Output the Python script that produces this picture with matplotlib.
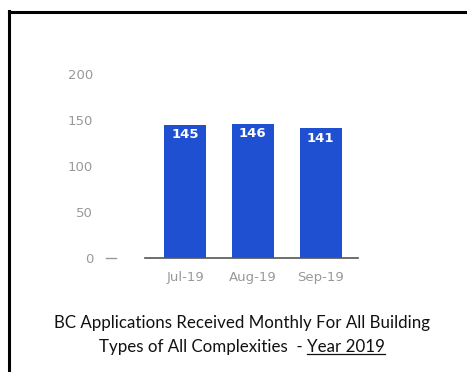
import matplotlib
matplotlib.use("Agg")
import matplotlib.pyplot as plt
from matplotlib.lines import Line2D

# monthly counts
months = ["Jul-19", "Aug-19", "Sep-19"]
applications = [145, 146, 141]
y_ticks = [0, 50, 100, 150, 200]

BAR_BLUE = "#1f50d2"
TICK_GREY = "#999999"

W, H = 467, 372
fig = plt.figure(figsize=(W / 100, H / 100), dpi=100)
fig.patch.set_facecolor("white")

# axes placed in pixel terms: x 145..358, y 258 (zero) .. 74 (200)
left, right, bottom, top = 145, 358, 258, 74
ax = fig.add_axes([left / W, 1 - bottom / H, (right - left) / W, (bottom - top) / H])

x = list(range(len(months)))
bars = ax.bar(x, applications, width=0.62, color=BAR_BLUE, zorder=2)
ax.set_xlim(-0.59, 2.55)
ax.set_ylim(0, 200)

for rect, v in zip(bars, applications):
    ax.text(rect.get_x() + rect.get_width() / 2, v - 3.5, str(v),
            ha="center", va="top", color="white", fontsize=9.5,
            fontweight="bold", family="DejaVu Sans", zorder=3)

for s in ["top", "right", "left"]:
    ax.spines[s].set_visible(False)
ax.spines["bottom"].set_color("#555555")
ax.spines["bottom"].set_linewidth(1.2)

ax.set_xticks(x)
ax.set_xticklabels(months, fontsize=9.5, color=TICK_GREY, family="DejaVu Sans")
ax.tick_params(axis="x", length=0, pad=9)

ax.set_yticks(y_ticks)
ax.set_yticklabels([str(t) for t in y_ticks], fontsize=9.5, color=TICK_GREY,
                   family="DejaVu Sans")
ax.tick_params(axis="y", length=0, pad=52 * 0.72)

# short dash next to the zero label
fig.add_artist(Line2D([106 / W, 116 / W], [1 - bottom / H, 1 - bottom / H],
                      transform=fig.transFigure, color="#999999", lw=1.0))

# caption under the chart
cap_font = dict(family="Lato", fontsize=12.2, color="#111111", ha="center")
fig.text(242 / W, 1 - 323 / H, "BC Applications Received Monthly For All Building",
         va="center", **cap_font)
line2 = fig.text(242 / W, 1 - 347 / H, "Types of All Complexities  - Year 2019",
                 va="center", **cap_font)

# underline the year part of the caption
fig.canvas.draw()
r = fig.canvas.get_renderer()
bb = line2.get_window_extent(r)
probe = fig.text(0, 0, "Year 2019", **cap_font)
pw = probe.get_window_extent(r).width
probe.remove()
uy = bb.y0 + 1
fig.add_artist(Line2D([(bb.x1 - pw) / W, bb.x1 / W], [uy / H, uy / H],
                      transform=fig.transFigure, color="#111111", lw=0.9))

# black frame on the left and top edges
fig.add_artist(Line2D([9 / W, 9 / W], [0, 1 - 11 / H], transform=fig.transFigure,
                      color="black", lw=2.2, solid_capstyle="projecting"))
fig.add_artist(Line2D([9 / W, 1], [1 - 12 / H, 1 - 12 / H], transform=fig.transFigure,
                      color="black", lw=2.2, solid_capstyle="projecting"))

fig.savefig("out.png", dpi=100)
